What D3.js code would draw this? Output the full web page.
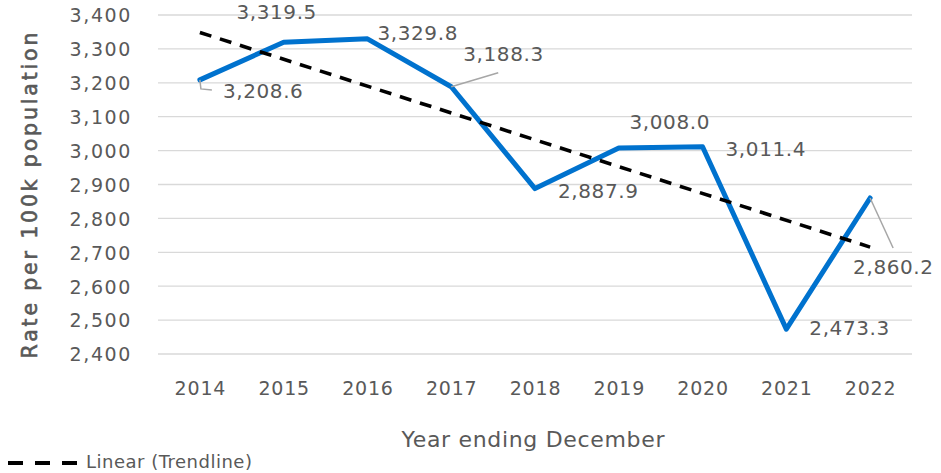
<!DOCTYPE html>
<html>
<head>
<meta charset="utf-8">
<script src="https://cdn.jsdelivr.net/npm/d3@7"></script>
<style>
  html, body { margin: 0; padding: 0; background: #fff; }
  svg { display: block; }
  text { font-family: "DejaVu Sans", sans-serif; fill: #595959; }
</style>
</head>
<body>
<svg id="chart" width="941" height="473"></svg>
<script>
// ---- data ----
const years = ["2014", "2015", "2016", "2017", "2018", "2019", "2020", "2021", "2022"];
const rates = [3208.6, 3319.5, 3329.8, 3188.3, 2887.9, 3008.0, 3011.4, 2473.3, 2860.2];
const yTicks = [2400, 2500, 2600, 2700, 2800, 2900, 3000, 3100, 3200, 3300, 3400];
// linear trendline endpoints
const trendYears = ["2014", "2022"];
const trendValues = [3348.5, 2715.3];
const yTitle = "Rate per 100k population";
const xTitle = "Year ending December";
const legendLabel = "Linear (Trendline)";

// ---- layout (label placement offsets, pixels) ----
const labelLayout = [
  { dx: 23, dy: 11, anchor: "start", leader: [[0, 0], [1, 9], [12, 10]] },
  { dx: -7, dy: -30, anchor: "middle" },
  { dx: 10, dy: -6, anchor: "start" },
  { dx: 12, dy: -33, anchor: "start", leader: [[0, 0], [47, -14]] },
  { dx: 23, dy: 2, anchor: "start" },
  { dx: 51, dy: -26, anchor: "middle" },
  { dx: 23, dy: 2, anchor: "start" },
  { dx: 23, dy: -1, anchor: "start" },
  { dx: -17, dy: 69, anchor: "start", leader: [[0, 0], [23, 50]] }
];

const svg = d3.select("#chart");
const x = d3.scalePoint().domain(years).range([158, 912]).padding(0.5);
const y = d3.scaleLinear().domain([2400, 3400]).range([354, 15]);

// gridlines
svg.append("g").selectAll("line").data(yTicks).join("line")
  .attr("x1", 158).attr("x2", 912)
  .attr("y1", d => y(d)).attr("y2", d => y(d))
  .attr("stroke", "#D9D9D9").attr("stroke-width", 1.3);

// y axis labels
const yAxis = d3.axisLeft(y).tickValues(yTicks).tickFormat(d3.format(",")).tickSize(0).tickPadding(0);
const gy = svg.append("g").attr("transform", "translate(132,0)").call(yAxis);
gy.select(".domain").remove();
gy.selectAll("text").attr("font-size", 19).attr("fill", "#595959")
  .attr("font-family", "DejaVu Sans").style("letter-spacing", "1.6px").attr("dy", "0.36em");

// x axis labels
const xAxis = d3.axisBottom(x).tickSize(0).tickPadding(0);
const gx = svg.append("g").attr("transform", "translate(0,395)").call(xAxis);
gx.select(".domain").remove();
gx.selectAll("text").attr("font-size", 19).attr("fill", "#595959")
  .attr("font-family", "DejaVu Sans").style("letter-spacing", "0.8px").attr("dy", 0);

// axis titles
svg.append("text")
  .attr("transform", "translate(36.5,195.5) rotate(-90)")
  .attr("text-anchor", "middle")
  .attr("font-size", 20.5)
  .attr("stroke", "#595959").attr("stroke-width", 0.6)
  .attr("textLength", 326).attr("lengthAdjust", "spacing")
  .text(yTitle);

svg.append("text")
  .attr("x", 533).attr("y", 446.5)
  .attr("text-anchor", "middle")
  .attr("font-size", 22)
  .attr("textLength", 263).attr("lengthAdjust", "spacing")
  .text(xTitle);

// data line
const line = d3.line().x(d => x(d.year)).y(d => y(d.value));
const series = years.map((yr, i) => ({ year: yr, value: rates[i] }));
svg.append("path").datum(series)
  .attr("d", line)
  .attr("fill", "none").attr("stroke", "#0072CE").attr("stroke-width", 5)
  .attr("stroke-linejoin", "round").attr("stroke-linecap", "round");

// trendline
const trend = trendYears.map((yr, i) => ({ year: yr, value: trendValues[i] }));
svg.append("path").datum(trend)
  .attr("d", line)
  .attr("fill", "none").attr("stroke", "#000").attr("stroke-width", 3.6)
  .attr("stroke-dasharray", "12,9");

// data labels with leader lines
const lbl = svg.append("g");
series.forEach((d, i) => {
  const L = labelLayout[i];
  const px = x(d.year), py = y(d.value);
  if (L.leader) {
    lbl.append("polyline")
      .attr("points", L.leader.map(p => [px + p[0], py + p[1]].join(",")).join(" "))
      .attr("fill", "none").attr("stroke", "#A6A6A6").attr("stroke-width", 1.5);
  }
  lbl.append("text")
    .attr("x", px + L.dx).attr("y", py + L.dy)
    .attr("text-anchor", L.anchor)
    .attr("dy", "0.36em")
    .attr("font-size", 20)
    .style("letter-spacing", "0.6px")
    .text(d3.format(",.1f")(d.value));
});

// legend
const lg = svg.append("g");
lg.append("line").attr("x1", 8).attr("x2", 78).attr("y1", 463).attr("y2", 463)
  .attr("stroke", "#000").attr("stroke-width", 4).attr("stroke-dasharray", "15,12");
lg.append("text").attr("x", 86).attr("y", 468)
  .attr("font-size", 18).style("letter-spacing", "0.5px")
  .text(legendLabel);
</script>
</body>
</html>
